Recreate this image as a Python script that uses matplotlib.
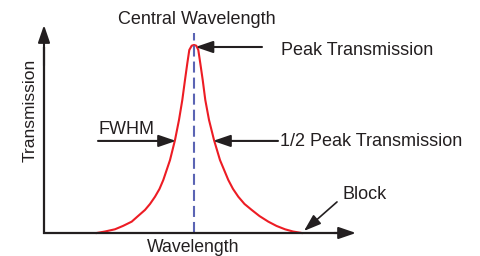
import matplotlib
matplotlib.use("Agg")
import matplotlib.pyplot as plt

# transmission curve (wavelength offset from centre, relative transmission)
wavelength = [-9.73, -8.90, -7.90, -7.10, -6.23, -5.60, -4.90, -4.40, -3.90, -3.45,
              -3.07, -2.40, -1.90, -1.50, -1.17, -0.90, -0.67, -0.47, -0.23, 0.00,
              0.23, 0.43, 0.63, 0.87, 1.13, 1.50, 2.00, 2.60, 3.43, 3.90,
              4.43, 5.05, 5.77, 6.55, 7.43, 8.25, 9.10, 9.90, 10.77]
transmission = [0.000, 0.008, 0.020, 0.038, 0.061, 0.091, 0.124, 0.156, 0.195, 0.237,
                0.285, 0.392, 0.500, 0.608, 0.715, 0.823, 0.912, 0.984, 1.007, 1.011,
                1.007, 0.984, 0.912, 0.823, 0.715, 0.608, 0.500, 0.392, 0.285, 0.237,
                0.195, 0.156, 0.124, 0.091, 0.061, 0.038, 0.020, 0.008, 0.000]
center_wl = 0.0
peak = 1.0
half_peak = 0.495

RED = '#ed1c24'
INK = '#231f20'
BLUE = '#5b64b4'

plt.rcParams['font.family'] = ['Liberation Sans', 'DejaVu Sans']

fig = plt.figure(figsize=(4.8, 2.56), dpi=100, facecolor='white')
ax = fig.add_axes([0, 0, 1, 1])
ax.set_xlim(-19.4, 28.6)
ax.set_ylim(-0.1237, 1.2527)
ax.axis('off')


def arrow(tip, tail, lw=1.5):
    ax.annotate('', xy=tip, xytext=tail,
                arrowprops=dict(arrowstyle='-|>,head_length=1.05,head_width=0.36',
                                color=INK, lw=lw, mutation_scale=10,
                                shrinkA=0, shrinkB=0))


# curve
ax.plot(wavelength, transmission, color=RED, lw=1.5, solid_joinstyle='round', zorder=2)

# centre wavelength marker
ax.vlines(center_wl, 0, 1.075, colors=BLUE, lw=1.5,
          linestyles=(0, (5.3, 2.4)), zorder=3)

# axes with arrow heads
ax.plot([-15.0, -15.0], [-0.003, 1.0], color=INK, lw=1.6, zorder=4, solid_capstyle='butt')
ax.plot([-15.05, 15.0], [0.0, 0.0], color=INK, lw=1.6, zorder=4, solid_capstyle='butt')
arrow((-15.0, 1.118), (-15.0, 0.9))
arrow((16.2, 0.0), (14.0, 0.0))

# annotations
arrow((0.15, peak), (6.8, peak))
arrow((-1.8, half_peak), (-9.6, half_peak))
arrow((1.9, half_peak), (8.4, half_peak))
arrow((11.0, 0.011), (14.3, 0.167), lw=1.2)

fs = 13
ax.text(0.3, 1.124, 'Central Wavelength', ha='center', va='baseline', fontsize=fs, color=INK)
ax.text(8.7, 0.957, 'Peak Transmission', ha='left', va='baseline', fontsize=fs, color=INK)
ax.text(8.6, 0.468, '1/2 Peak Transmission', ha='left', va='baseline', fontsize=fs, color=INK)
ax.text(-9.5, 0.532, 'FWHM', ha='left', va='baseline', fontsize=fs, color=INK)
ax.text(14.9, 0.183, 'Block', ha='left', va='baseline', fontsize=fs, color=INK)
ax.text(-0.1, -0.102, 'Wavelength', ha='center', va='baseline', fontsize=12.7, color=INK)
ax.text(-15.9, 0.661, 'Transmission', ha='center', va='baseline', rotation=90,
        rotation_mode='anchor', fontsize=12.5, color=INK)

fig.savefig('out.png', dpi=100, facecolor='white')
